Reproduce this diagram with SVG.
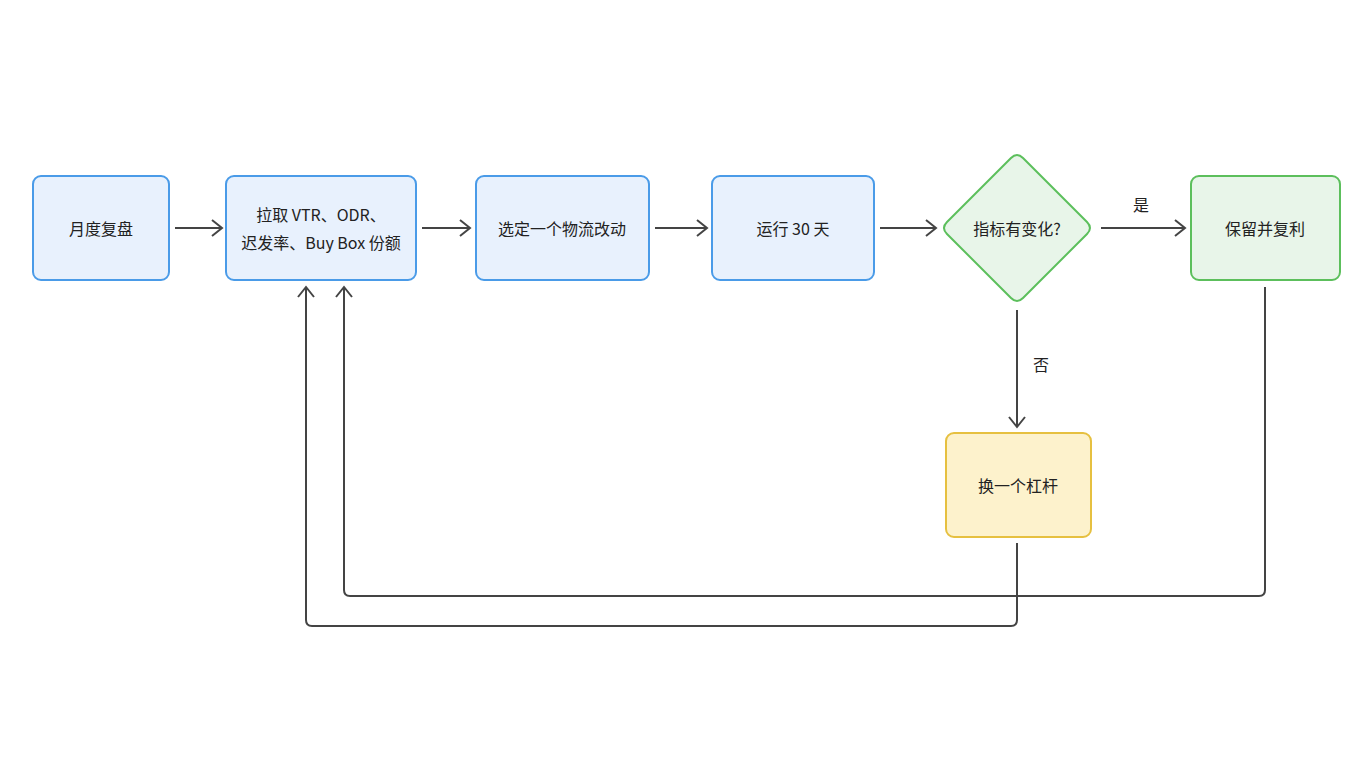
<svg xmlns="http://www.w3.org/2000/svg" width="1360" height="768" viewBox="0 0 1360 768">
<defs>
<marker id="a" markerWidth="20" markerHeight="20" refX="13" refY="10" orient="auto" markerUnits="userSpaceOnUse"><path d="M3,2 L13,10 L3,18" fill="none" stroke="#444" stroke-width="2"/></marker>
<style>
.b{fill:#e8f1fd;stroke:#4a9be8;stroke-width:2}
.g{fill:#e8f5e9;stroke:#5cbf5c;stroke-width:2}
.y{fill:#fdf2cc;stroke:#e6c040;stroke-width:2}
text{font-family:"Noto Sans CJK SC","Noto Sans",sans-serif;font-size:16px;fill:#222;text-anchor:middle;dominant-baseline:central}
.c path{fill:none;stroke:#444;stroke-width:2;marker-end:url(#a)}
</style>
</defs>
<rect width="1360" height="768" fill="#fff"/>
<g class="c">
<path d="M175,228H222"/>
<path d="M422,228H470"/>
<path d="M655,228H707"/>
<path d="M880,228H936"/>
<path d="M1101,228H1185"/>
<path d="M1017,310V427"/>
<path d="M1017,543V620Q1017,626 1011,626H312Q306,626 306,620V287"/>
<path d="M1265,287V590Q1265,596 1259,596H350Q344,596 344,590V287"/>
<text x="1141" y="204">是</text>
<text x="1041" y="364">否</text>
</g>
<g id="n1"><rect class="b" x="33" y="176" width="136" height="104" rx="8"/><text x="101" y="228">月度复盘</text></g>
<g id="n2"><rect class="b" x="226" y="176" width="190" height="104" rx="8"/><text x="321" y="214">拉取 VTR、ODR、</text><text x="321" y="242">迟发率、Buy Box 份额</text></g>
<g id="n3"><rect class="b" x="476" y="176" width="173" height="104" rx="8"/><text x="562" y="228">选定一个物流改动</text></g>
<g id="n4"><rect class="b" x="712" y="176" width="162" height="104" rx="8"/><text x="793" y="228">运行 30 天</text></g>
<g id="n5"><path class="g" d="M1011,158Q1017,152 1023,158L1087,222Q1093,228 1087,234L1023,298Q1017,304 1011,298L947,234Q941,228 947,222Z"/><text x="1017" y="228">指标有变化?</text></g>
<g id="n6"><rect class="g" x="1191" y="176" width="149" height="104" rx="8"/><text x="1265" y="228">保留并复利</text></g>
<g id="n7"><rect class="y" x="946" y="433" width="145" height="104" rx="8"/><text x="1018" y="485">换一个杠杆</text></g>
</svg>
